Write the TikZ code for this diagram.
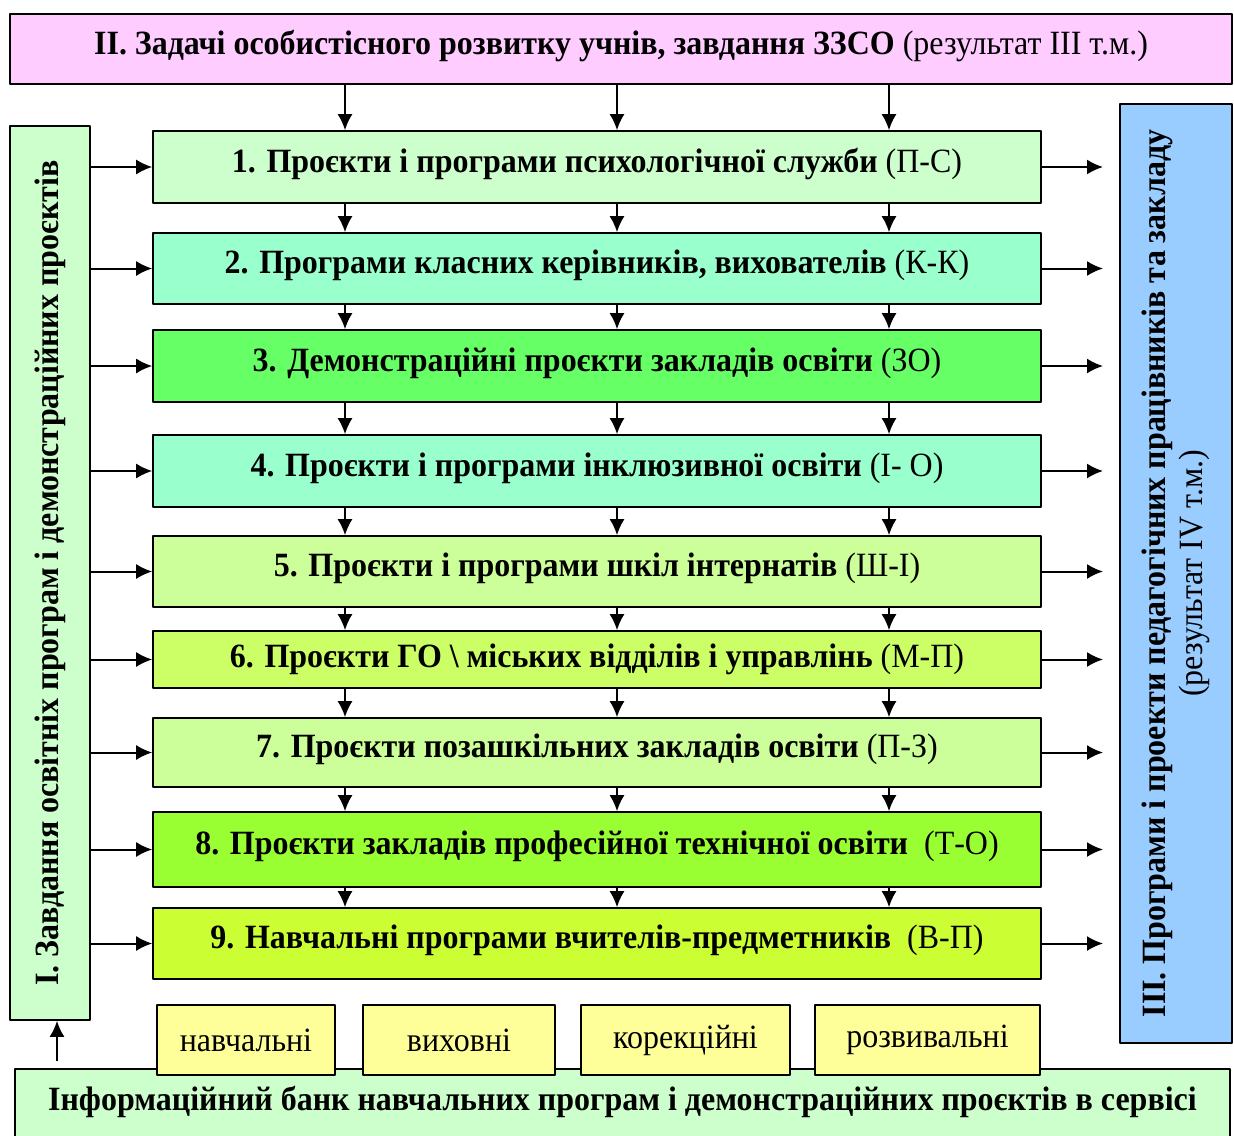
\documentclass[tikz,border=0pt]{standalone}
\usepackage{fontspec}
\setmainfont[FakeStretch=0.94]{Liberation Serif}
\usetikzlibrary{arrows.meta,positioning}

\definecolor{pinkbox}{HTML}{FFCCFF}
\definecolor{mintbox}{HTML}{CCFFCC}
\definecolor{aquabox}{HTML}{99FFCC}
\definecolor{greenbox}{HTML}{66FF66}
\definecolor{limebox}{HTML}{CCFF99}
\definecolor{yellowgreen}{HTML}{CCFF66}
\definecolor{brightgreen}{HTML}{99FF33}
\definecolor{acidgreen}{HTML}{CCFF33}
\definecolor{yellowbox}{HTML}{FFFF99}
\definecolor{bluebox}{HTML}{99CCFF}

\begin{document}
\begin{tikzpicture}[x=1pt, y=-1pt, >={Latex[length=16pt,width=15pt]}, line join=round,
	frame/.style={draw, line width=1.6pt, inner sep=0pt, font=\fontsize{34}{38}\selectfont},
	prog/.style={frame, minimum width=888pt, text height=23pt, text depth=13pt},
	kind/.style={frame, fill=yellowbox, minimum height=70pt},
	flow/.style={->, line width=2pt}]
	
	\useasboundingbox (0,0) rectangle (1234,1135);
	
	% Top: tasks of personal development
	\node[frame, fill=pinkbox, minimum width=1222pt, minimum height=70pt,
	text height=23pt, text depth=13pt] (tasks) at (621,49)
	{\textbf{ІІ. Задачі особистісного розвитку учнів, завдання ЗЗСО} (результат ІІІ т.м.)};
	
	% Left and right columns
	\node[frame, fill=mintbox, rotate=90, minimum width=894pt, minimum height=80pt]
	(aims) at (50,573)
	{\textbf{І. Завдання освітніх програм і демонстраційних проєктів}};
	
	\node[frame, fill=bluebox, rotate=90, minimum width=939pt, minimum height=112pt,
	align=center, font=\fontsize{34}{37}\selectfont] (staff) at (1176,573.5)
	{\textbf{ІІІ. Програми і проекти педагогічних працівників та закладу}\\(результат IV т.м.)};
	
	% Middle: nine kinds of programs
	\node[prog, fill=mintbox, minimum height=72pt] (b1) at (597,167)
	{\textbf{1. Проєкти і програми психологічної служби} (П-С)};
	\node[prog, fill=aquabox, minimum height=71pt] (b2) at (597,268.5)
	{\textbf{2. Програми класних керівників, вихователів} (К-К)};
	\node[prog, fill=greenbox, minimum height=72pt] (b3) at (597,366)
	{\textbf{3. Демонстраційні проєкти закладів освіти} (ЗО)};
	\node[prog, fill=aquabox, minimum height=72pt] (b4) at (597,471)
	{\textbf{4. Проєкти і програми інклюзивної освіти} (І- О)};
	\node[prog, fill=limebox, minimum height=71pt] (b5) at (597,571.5)
	{\textbf{5. Проєкти і програми шкіл інтернатів} (Ш-І)};
	\node[prog, fill=yellowgreen, minimum height=57pt, text depth=8pt] (b6) at (597,659.5)
	{\textbf{6. Проєкти ГО \textbackslash{} міських відділів і управлінь} (М-П)};
	\node[prog, fill=limebox, minimum height=69pt] (b7) at (597,752.5)
	{\textbf{7. Проєкти позашкільних закладів освіти} (П-З)};
	\node[prog, fill=brightgreen, minimum height=75pt] (b8) at (597,849.5)
	{\textbf{8. Проєкти закладів професійної технічної освіти}\ \ (Т-О)};
	\node[prog, fill=acidgreen, minimum height=71pt] (b9) at (597,943.5)
	{\textbf{9. Навчальні програми вчителів-предметників}\ \ (В-П)};
	
	% Bottom: information bank and kinds
	\node[frame, fill=mintbox, minimum width=1215pt, minimum height=72pt,
	text height=23pt, text depth=13pt] (bank) at (622.5,1105)
	{\textbf{Інформаційний банк навчальних програм і демонстраційних проєктів в сервісі}};
	
	\node[kind, minimum width=178pt] (k1) at (246,1040) {навчальні};
	\node[kind, minimum width=192pt] (k2) at (459,1040) {виховні};
	\node[kind, minimum width=209pt] (k3) at (685.5,1040) {корекційні};
	\node[kind, minimum width=225pt] (k4) at (927.5,1040) {розвивальні};
	
	% Arrow columns
	\coordinate (colA) at (345,0);
	\coordinate (colB) at (617,0);
	\coordinate (colC) at (889,0);
	\coordinate (outR) at (1103,0);
	\coordinate (upL) at (57,0);
	
	\foreach \c in {colA,colB,colC}
	\draw[flow] (tasks.south -| \c) -- (b1.north -| \c);
	\foreach \i/\j in {1/2,2/3,3/4,4/5,5/6,6/7,7/8,8/9}
	\foreach \c in {colA,colB,colC}
	\draw[flow] (b\i.south -| \c) -- (b\j.north -| \c);
	
	\foreach \i in {1,...,9}{
		\draw[flow] (aims.south |- b\i.west) -- (b\i.west);
		\draw[flow] (b\i.east) -- (b\i.east -| outR);
	}
	
	\draw[flow, shorten <=7pt] (bank.north -| upL) -- (aims.west -| upL);
	
\end{tikzpicture}
\end{document}
